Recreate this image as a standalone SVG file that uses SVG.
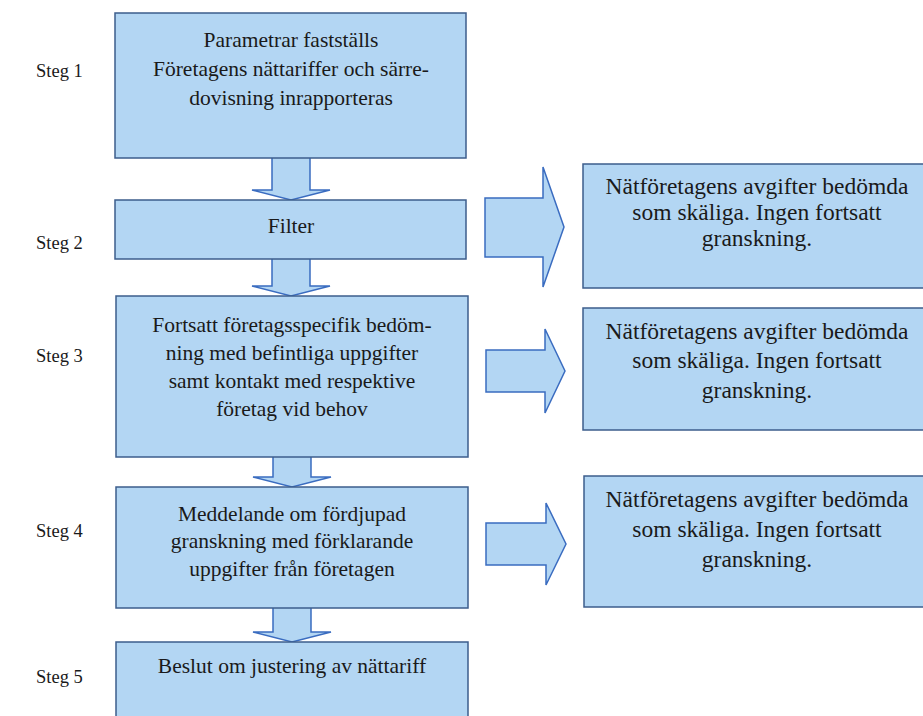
<svg xmlns="http://www.w3.org/2000/svg" width="923" height="716" viewBox="0 0 923 716">
<style>
.box{fill:#b3d6f3;stroke:#3d5d8c;stroke-width:1.5}
.arr{fill:#b3d6f3;stroke:#3a6cc0;stroke-width:1.5;stroke-linejoin:miter}
text{font-family:"Liberation Serif","Times New Roman",serif;font-size:21.5px;fill:#1a1a1a;text-anchor:middle}
.r{font-size:23.5px}
.steg{text-anchor:start;font-size:18.5px}
</style>
<rect width="923" height="716" fill="#ffffff"/>
<g id="labels">
<text class="steg" x="36" y="77">Steg 1</text>
<text class="steg" x="36" y="249">Steg 2</text>
<text class="steg" x="36" y="362">Steg 3</text>
<text class="steg" x="36" y="537">Steg 4</text>
<text class="steg" x="36" y="683">Steg 5</text>
</g>
<g id="connectors">
<path class="arr" d="M272,158 V190 H252 L291,200 L330,190 H310 V158"/>
<path class="arr" d="M272,259 V286 H252 L291,296 L330,286 H310 V259"/>
<path class="arr" d="M273,457 V477 H253 L292,487 L331,477 H311 V457"/>
<path class="arr" d="M273,608 V632 H253 L292,642 L331,632 H311 V608"/>
<path class="arr" d="M485,198 H543 V167 L564,227 L543,287 V257 H485 Z"/>
<path class="arr" d="M486,350 H545 V329 L565,371 L545,413 V392 H486 Z"/>
<path class="arr" d="M486,523 H546 V503 L566,544 L546,585 V565 H486 Z"/>
</g>
<g id="step1">
<rect class="box" x="115" y="13" width="351" height="145"/>
<text x="291" y="47">Parametrar fastställs</text>
<text x="291" y="76">Företagens nättariffer och särre-</text>
<text x="291" y="105">dovisning inrapporteras</text>
</g>
<g id="step2">
<rect class="box" x="115" y="200" width="351" height="59"/>
<text x="291" y="233">Filter</text>
</g>
<g id="step3">
<rect class="box" x="116" y="296" width="352" height="161"/>
<text x="292" y="332">Fortsatt företagsspecifik bedöm-</text>
<text x="292" y="360">ning med befintliga uppgifter</text>
<text x="292" y="388">samt kontakt med respektive</text>
<text x="292" y="416">företag vid behov</text>
</g>
<g id="step4">
<rect class="box" x="116" y="487" width="352" height="121"/>
<text x="292" y="521">Meddelande om fördjupad</text>
<text x="292" y="548">granskning med förklarande</text>
<text x="292" y="576">uppgifter från företagen</text>
</g>
<g id="step5">
<rect class="box" x="116" y="642" width="352" height="80"/>
<text x="292" y="673">Beslut om justering av nättariff</text>
</g>
<g id="result2">
<rect class="box" x="583" y="164" width="345" height="124"/>
<text class="r" x="757" y="194">Nätföretagens avgifter bedömda</text>
<text class="r" x="757" y="220">som skäliga. Ingen fortsatt</text>
<text class="r" x="757" y="246">granskning.</text>
</g>
<g id="result3">
<rect class="box" x="583" y="308" width="345" height="122"/>
<text class="r" x="757" y="339">Nätföretagens avgifter bedömda</text>
<text class="r" x="757" y="368">som skäliga. Ingen fortsatt</text>
<text class="r" x="757" y="398">granskning.</text>
</g>
<g id="result4">
<rect class="box" x="584" y="476" width="345" height="131"/>
<text class="r" x="757" y="507">Nätföretagens avgifter bedömda</text>
<text class="r" x="757" y="537">som skäliga. Ingen fortsatt</text>
<text class="r" x="757" y="567">granskning.</text>
</g>
</svg>
